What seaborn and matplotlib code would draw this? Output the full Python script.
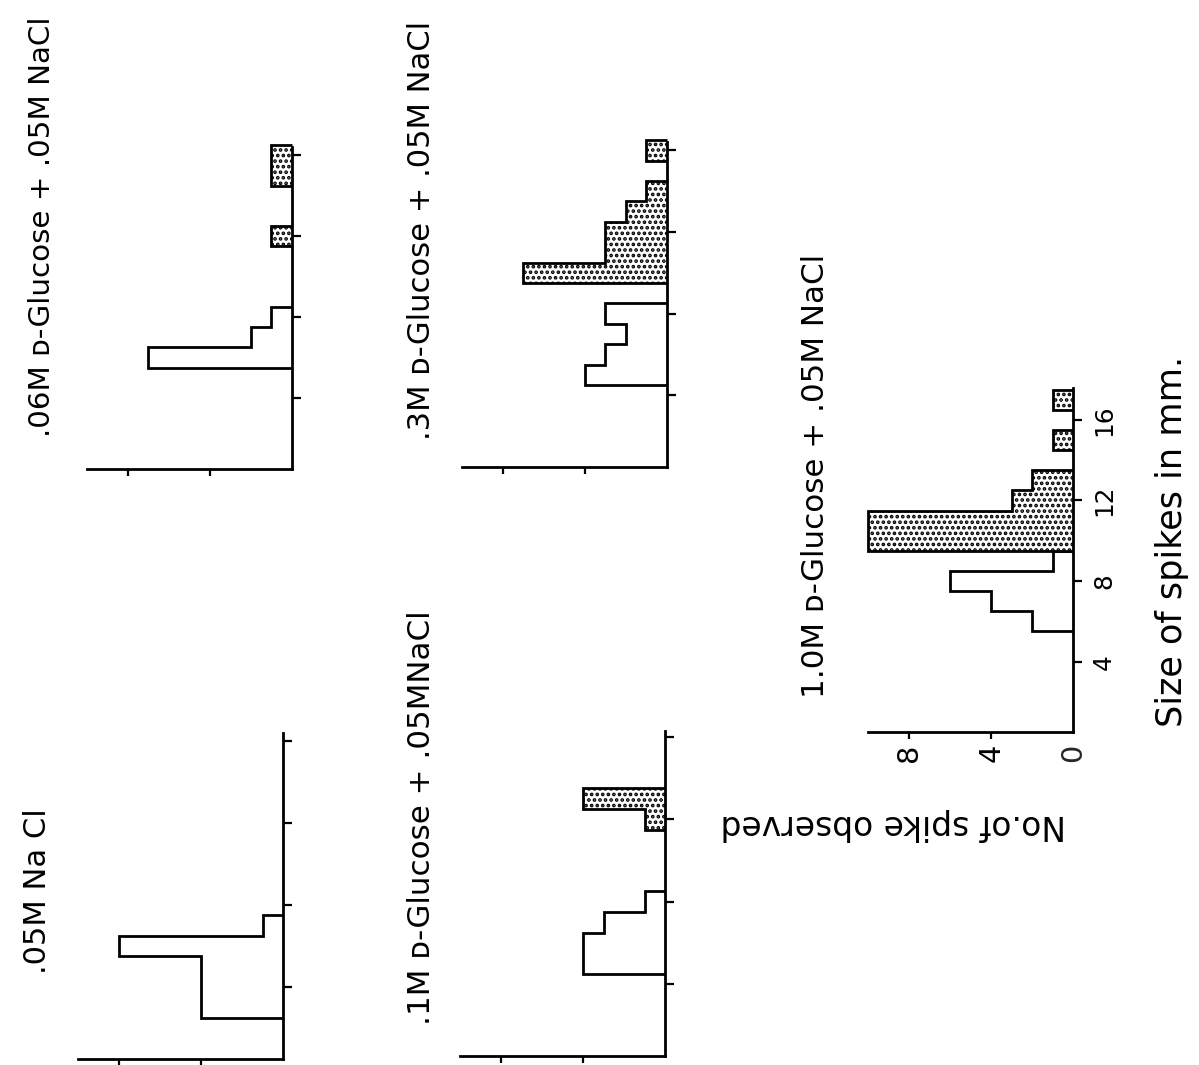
import numpy as np
import pandas as pd
import matplotlib
matplotlib.use("Agg")
import matplotlib.pyplot as plt
import seaborn as sns

# ---------------- data ----------------
titles = [".05M Na Cl",
          ".06M ᴅ-Glucose + .05M NaCl",
          ".1M ᴅ-Glucose + .05MNaCl",
          ".3M ᴅ-Glucose + .05M NaCl",
          "1.0M ᴅ-Glucose + .05M NaCl"]

# spike size bins (mm, bin centres) and number of spikes; plain = open bars, stip = stippled bars
nacl_plain_size = [3, 4, 5, 6, 7]
nacl_plain_count = [4, 4, 4, 8, 1]
nacl_stip_size = []
nacl_stip_count = []

g006_plain_size = [6, 7, 8]
g006_plain_count = [7, 2, 1]
g006_stip_size = [12, 15, 16]
g006_stip_count = [1, 1, 1]

g01_plain_size = [5, 6, 7, 8]
g01_plain_count = [4, 4, 3, 1]
g01_stip_size = [12, 13]
g01_stip_count = [1, 4]

g03_plain_size = [5, 6, 7, 8]
g03_plain_count = [4, 3, 2, 3]
g03_stip_size = [10, 11, 12, 13, 14, 16]
g03_stip_count = [7, 3, 3, 2, 1, 1]

g10_plain_size = [6, 7, 8, 9]
g10_plain_count = [2, 4, 6, 1]
g10_stip_size = [10, 11, 12, 13, 15, 17]
g10_stip_count = [10, 10, 3, 2, 1, 1]

size_ticks = [4, 8, 12, 16]
count_ticks = [4, 8]
xlabel = "Size of spikes in mm."
ylabel = "No.of spike observed"

panels = [
    (nacl_plain_size, nacl_plain_count, nacl_stip_size, nacl_stip_count),
    (g006_plain_size, g006_plain_count, g006_stip_size, g006_stip_count),
    (g01_plain_size, g01_plain_count, g01_stip_size, g01_stip_count),
    (g03_plain_size, g03_plain_count, g03_stip_size, g03_stip_count),
    (g10_plain_size, g10_plain_count, g10_stip_size, g10_stip_count),
]

# ---------------- layout (pixel geometry of the rotated page) ----------------
W, H = 1199, 1065
PXC = 20.5  # px per count
# baseline x, y of size 0, px per mm, top of size axis
geom = [(283.0, 1069.0, 20.5, 16.4),
        (291.7, 478.6, 20.2, 16.4),
        (665.0, 1066.4, 20.6, 16.3),
        (666.7, 476.7, 20.4, 16.4),
        (1073.3, 742.3, 20.15, 17.6)]
CMAX = 10.0
YMIN = 0.5
LW = 2.0

sns.set_theme(style="ticks")
plt.rcParams["font.family"] = ["DejaVu Sans"]
plt.rcParams["hatch.linewidth"] = 1.8
plt.rcParams["axes.edgecolor"] = "black"

fig = plt.figure(figsize=(W / 100, H / 100), dpi=100)
fig.patch.set_facecolor("white")


def runs(sizes, counts):
    out = []
    cur_s, cur_c = [], []
    for s, c in zip(sizes, counts):
        if cur_s and s - cur_s[-1] > 1:
            out.append((cur_s, cur_c))
            cur_s, cur_c = [], []
        cur_s.append(s)
        cur_c.append(c)
    if cur_s:
        out.append((cur_s, cur_c))
    return out


for i, ((ps, pc, ss, sc), (X0, Y0, pmm, top)) in enumerate(zip(panels, geom)):
    last = (i == 4)
    rect = [(X0 - CMAX * PXC) / W, (H - (Y0 - YMIN * pmm)) / H,
            CMAX * PXC / W, (top - YMIN) * pmm / H]
    ax = fig.add_axes(rect)
    ax.set_facecolor("none")
    for sizes, counts, stip in [(ps, pc, False), (ss, sc, True)]:
        if not sizes:
            continue
        df = pd.DataFrame({"size": sizes, "count": counts})
        sns.histplot(data=df, y="size", weights="count", discrete=True, ax=ax,
                     color="white", edgecolor="black", linewidth=0, alpha=1,
                     hatch="..." if stip else None)
        for rs, rc in runs(sizes, counts):
            edges = np.array(rs + [rs[-1] + 1], dtype=float) - 0.5
            ax.stairs(rc, edges, orientation="horizontal", baseline=0,
                      fill=False, color="black", lw=LW, clip_on=False)
    ax.set_xlim(CMAX, 0)
    ax.set_ylim(YMIN, top)
    ax.set_xlabel("")
    ax.set_ylabel("")
    for s in ["left", "top"]:
        ax.spines[s].set_visible(False)
    for s in ["right", "bottom"]:
        ax.spines[s].set_linewidth(LW)
        ax.spines[s].set_color("black")
    ax.yaxis.set_ticks_position("right")
    ax.xaxis.set_ticks_position("bottom")
    if last:
        ax.set_yticks(size_ticks, labels=[str(v) for v in size_ticks],
                      rotation=90, va="center", ha="left", fontsize=17.8)
        ax.set_xticks(count_ticks, labels=[str(v) for v in count_ticks],
                      rotation=90, ha="center", va="top", fontsize=20.7)
        ax.set_xticks([0], labels=["0"], minor=True, rotation=90,
                      ha="center", va="top", fontsize=20.7)
        ax.tick_params(axis="x", which="minor", length=0, pad=8)
    else:
        ax.set_yticks(size_ticks, labels=[])
        ax.set_xticks(count_ticks, labels=[])
    ax.tick_params(axis="y", which="major", direction="out", length=6.5, width=1.6,
                   colors="black", pad=7)
    ax.tick_params(axis="x", which="major", direction="out", length=5, width=1.6,
                   colors="black", pad=3)

renderer = fig.canvas.get_renderer()


def vtext(s, xc, y_start, y_end=None, size=20, va="bottom"):
    t = fig.text(xc / W, 1 - y_start / H, s, rotation=90, ha="center",
                 va=va, fontsize=size, color="black")
    if y_end is not None:
        L = t.get_window_extent(renderer).height
        t.set_fontsize(size * (y_start - y_end) / L)
    return t


t3 = vtext(titles[3], 421, 440, 20)
title_size = t3.get_fontsize()
vtext(titles[1], 42, 437, 15)
vtext(titles[2], 421, 1025, 610)
vtext(titles[0], 38, 891, size=title_size, va="center")
vtext(titles[4], 815, 698, size=22.3)
vtext(xlabel, 1172, 727, 355)

fig.text(720 / W, 1 - 825 / H, ylabel, rotation=180, ha="left", va="center",
         fontsize=23.7, color="black")

fig.savefig("out.png", dpi=100, facecolor="white")
